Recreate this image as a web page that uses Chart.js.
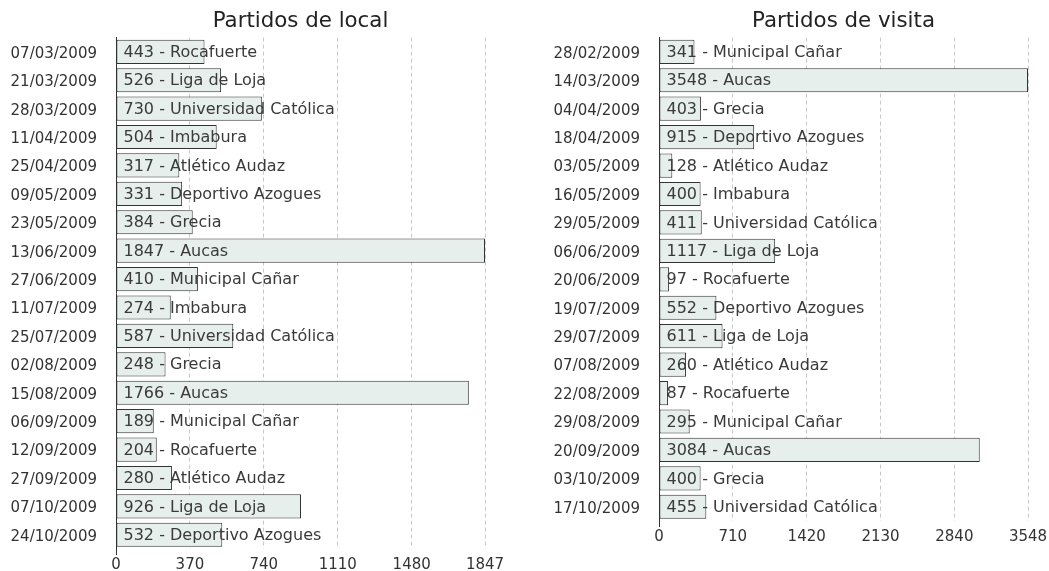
<!DOCTYPE html>
<html>
<head>
<meta charset="utf-8">
<script src="https://cdn.jsdelivr.net/npm/chart.js@4"></script>
<style>
  body { margin: 0; background: #fff; }
  #wrap { position: relative; width: 1049px; height: 571px; }
  #localBox { position: absolute; left: 0; top: 0; }
  #visitaBox { position: absolute; left: 530px; top: 0; }
</style>
</head>
<body>
<div id="wrap">
  <canvas id="localBox" width="530" height="571"></canvas>
  <canvas id="visitaBox" width="519" height="543"></canvas>
</div>
<script>
// Partidos de local
const localDates = ['07/03/2009', '21/03/2009', '28/03/2009', '11/04/2009', '25/04/2009', '09/05/2009',
  '23/05/2009', '13/06/2009', '27/06/2009', '11/07/2009', '25/07/2009', '02/08/2009', '15/08/2009',
  '06/09/2009', '12/09/2009', '27/09/2009', '07/10/2009', '24/10/2009'];
const localValues = [443, 526, 730, 504, 317, 331, 384, 1847, 410, 274, 587, 248, 1766, 189, 204, 280, 926, 532];
const localTeams = ['Rocafuerte', 'Liga de Loja', 'Universidad Católica', 'Imbabura', 'Atlético Audaz',
  'Deportivo Azogues', 'Grecia', 'Aucas', 'Municipal Cañar', 'Imbabura', 'Universidad Católica', 'Grecia',
  'Aucas', 'Municipal Cañar', 'Rocafuerte', 'Atlético Audaz', 'Liga de Loja', 'Deportivo Azogues'];
const localTicks = [0, 370, 740, 1110, 1480, 1847];

// Partidos de visita
const visitaDates = ['28/02/2009', '14/03/2009', '04/04/2009', '18/04/2009', '03/05/2009', '16/05/2009',
  '29/05/2009', '06/06/2009', '20/06/2009', '19/07/2009', '29/07/2009', '07/08/2009', '22/08/2009',
  '29/08/2009', '20/09/2009', '03/10/2009', '17/10/2009'];
const visitaValues = [341, 3548, 403, 915, 128, 400, 411, 1117, 97, 552, 611, 260, 87, 295, 3084, 400, 455];
const visitaTeams = ['Municipal Cañar', 'Aucas', 'Grecia', 'Deportivo Azogues', 'Atlético Audaz', 'Imbabura',
  'Universidad Católica', 'Liga de Loja', 'Rocafuerte', 'Deportivo Azogues', 'Liga de Loja', 'Atlético Audaz',
  'Rocafuerte', 'Municipal Cañar', 'Aucas', 'Grecia', 'Universidad Católica'];
const visitaTicks = [0, 710, 1420, 2130, 2840, 3548];

const FONT = 'DejaVu Sans';

// escribe "valor - equipo" al inicio de cada barra
const barText = {
  id: 'barText',
  afterDatasetsDraw(chart, args, opts) {
    const ctx = chart.ctx;
    const meta = chart.getDatasetMeta(0);
    const values = chart.data.datasets[0].data;
    ctx.save();
    ctx.font = '16px "' + FONT + '"';
    ctx.fillStyle = '#3a3a3a';
    ctx.textAlign = 'left';
    ctx.textBaseline = 'middle';
    meta.data.forEach((bar, i) => {
      ctx.fillText(values[i] + ' - ' + opts.teams[i], bar.base + 7, bar.y + 1);
    });
    ctx.restore();
  }
};

function makeChart(id, title, dates, values, teams, ticks, leftWidth, rightPad) {
  return new Chart(document.getElementById(id), {
    type: 'bar',
    data: {
      labels: dates,
      datasets: [{
        data: values,
        backgroundColor: '#e6efeb',
        borderColor: '#333',
        borderWidth: 1,
        borderSkipped: false,
        categoryPercentage: 1,
        barPercentage: 0.85
      }]
    },
    options: {
      indexAxis: 'y',
      responsive: false,
      animation: false,
      devicePixelRatio: 1,
      layout: { padding: { left: 0, right: rightPad, top: 0, bottom: 0 } },
      plugins: {
        legend: { display: false },
        tooltip: { enabled: false },
        title: {
          display: true,
          text: title,
          fullSize: false,
          color: '#222',
          font: { family: FONT, size: 21.33, weight: 'normal' },
          padding: { top: 9, bottom: 3 }
        },
        barText: { teams: teams }
      },
      scales: {
        x: {
          min: 0,
          max: ticks[ticks.length - 1],
          afterBuildTicks: (scale) => { scale.ticks = ticks.map(v => ({ value: v })); },
          afterFit: (scale) => { scale.height = 22; },
          border: { display: false, dash: [4, 3] },
          grid: {
            color: (c) => c.index === 0 ? 'rgba(0,0,0,0)' : '#c8c8c8',
            drawTicks: true,
            tickLength: 6,
            tickColor: (c) => c.index === 0 ? '#333' : 'rgba(0,0,0,0)'
          },
          ticks: {
            color: '#333',
            padding: 1,
            maxRotation: 0,
            autoSkip: false,
            font: { family: FONT, size: 15 },
            callback: (v) => String(v)
          }
        },
        y: {
          afterFit: (scale) => { scale.width = leftWidth; },
          border: { display: true, color: '#333', width: 1 },
          grid: { display: false },
          ticks: {
            color: '#333',
            padding: 11,
            labelOffset: 2,
            autoSkip: false,
            font: { family: FONT, size: 15 }
          }
        }
      }
    },
    plugins: [barText]
  });
}

makeChart('localBox', 'Partidos de local', localDates, localValues, localTeams, localTicks, 116, 45);
makeChart('visitaBox', 'Partidos de visita', visitaDates, visitaValues, visitaTeams, visitaTicks, 129, 21);
</script>
</body>
</html>
